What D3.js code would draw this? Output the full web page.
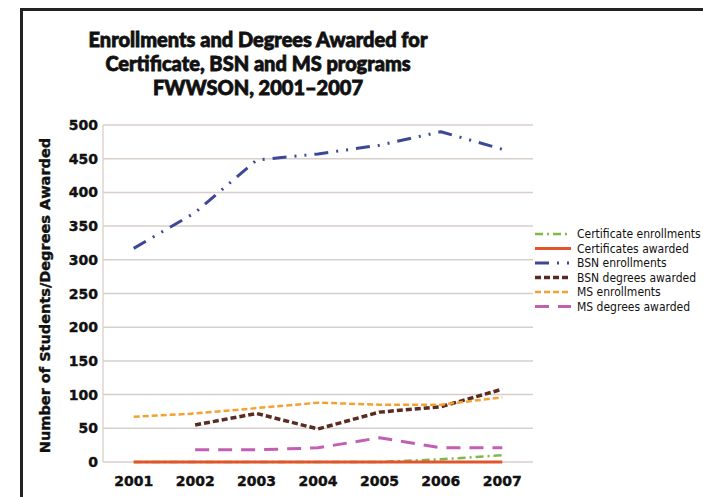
<!DOCTYPE html>
<html>
<head>
<meta charset="utf-8">
<script src="https://cdn.jsdelivr.net/npm/d3@7"></script>
<style>
  body { margin: 0; background: #fff; }
  svg { display: block; }
  .heavy { font-family: Lato, "DejaVu Sans", sans-serif; font-weight: 900; fill: #111; stroke: #111; stroke-width: 0.8; }
  .axis { font-family: "DejaVu Sans", sans-serif; font-weight: bold; fill: #111; stroke: #111; stroke-width: 0.4; }
  .leg { font-family: "Liberation Sans Narrow", "DejaVu Sans Condensed", sans-serif; font-size: 12px; fill: #111; }
</style>
</head>
<body>
<svg width="703" height="497"></svg>
<script>
var years = ["2001", "2002", "2003", "2004", "2005", "2006", "2007"];
var certEnroll = [0, 0, 0, 0, 0, 4, 10];
var certAwarded = [0, 0, 0, 0, 0, 0, 0];
var bsnEnroll = [317, 370, 448, 457, 470, 490, 464];
var bsnDegrees = [null, 55, 72, 49, 74, 82, 108];
var msEnroll = [67, 72, 80, 88, 85, 85, 96];
var msDegrees = [null, 18, 18, 21, 36, 21, 21];
var yTicks = [0, 50, 100, 150, 200, 250, 300, 350, 400, 450, 500];
var titleLines = ["Enrollments and Degrees Awarded for", "Certificate, BSN and MS programs", "FWWSON, 2001\u20132007"];

var series = [
  {name: "Certificate enrollments", values: certEnroll, color: "#7dba4a", width: 2.5, dash: "8,4,2,4"},
  {name: "Certificates awarded", values: certAwarded, color: "#e0552b", width: 3, dash: null},
  {name: "BSN enrollments", values: bsnEnroll, color: "#3c4896", width: 3, dash: "14,8,2,8,2,8"},
  {name: "BSN degrees awarded", values: bsnDegrees, color: "#5b2a20", width: 3.5, dash: "6,3"},
  {name: "MS enrollments", values: msEnroll, color: "#f5a131", width: 2.5, dash: "6,3"},
  {name: "MS degrees awarded", values: msDegrees, color: "#c25fb2", width: 3, dash: "14,9"}
];

var svg = d3.select("svg");

// frame
svg.append("path")
  .attr("d", "M21.5,497 V9.5 H703")
  .attr("fill", "none")
  .attr("stroke", "#222")
  .attr("stroke-width", 3);

var plotLeft = 103, plotRight = 533, plotTop = 125, plotBottom = 462;

var x = d3.scalePoint().domain(years).range([plotLeft, plotRight]).padding(0.5);
var y = d3.scaleLinear().domain([0, 500]).range([plotBottom, plotTop]);

// gridlines
svg.append("g").selectAll("line")
  .data(yTicks)
  .enter().append("line")
  .attr("x1", plotLeft).attr("x2", plotRight)
  .attr("y1", function(d) { return y(d); })
  .attr("y2", function(d) { return y(d); })
  .attr("stroke", "#d6cfcb")
  .attr("stroke-width", 1.5);

svg.append("line")
  .attr("x1", plotLeft).attr("x2", plotLeft)
  .attr("y1", plotTop).attr("y2", plotBottom)
  .attr("stroke", "#ddd6d2")
  .attr("stroke-width", 1.5);

// y labels
svg.append("g").selectAll("text")
  .data(yTicks)
  .enter().append("text")
  .attr("class", "axis")
  .attr("x", 98)
  .attr("y", function(d) { return y(d); })
  .attr("dy", "0.36em")
  .attr("text-anchor", "end")
  .attr("font-size", 14)
  .text(function(d) { return d; });

// x labels
svg.append("g").selectAll("text")
  .data(years)
  .enter().append("text")
  .attr("class", "axis")
  .attr("x", function(d) { return x(d); })
  .attr("y", 486)
  .attr("text-anchor", "middle")
  .attr("font-size", 14)
  .text(function(d) { return d; });

// y title
svg.append("text")
  .attr("class", "axis")
  .attr("transform", "translate(50," + ((plotTop + plotBottom) / 2 + 2) + ") rotate(-90)")
  .attr("text-anchor", "middle")
  .attr("font-size", 14.5)
  .text("Number of Students/Degrees Awarded");

// title
svg.append("g").selectAll("text")
  .data(titleLines)
  .enter().append("text")
  .attr("class", "heavy")
  .attr("x", 258)
  .attr("y", function(d, i) { return 47 + i * 24; })
  .attr("text-anchor", "middle")
  .attr("font-size", 20)
  .text(function(d) { return d; });

// lines
var line = d3.line()
  .defined(function(d) { return d != null; })
  .x(function(d, i) { return x(years[i]); })
  .y(function(d) { return y(d); });

svg.append("g").selectAll("path")
  .data(series)
  .enter().append("path")
  .attr("d", function(s) { return line(s.values); })
  .attr("fill", "none")
  .attr("stroke", function(s) { return s.color; })
  .attr("stroke-width", function(s) { return s.width; })
  .attr("stroke-dasharray", function(s) { return s.dash; })
  .attr("stroke-linejoin", "round");

// legend
var legend = svg.append("g").selectAll("g")
  .data(series)
  .enter().append("g")
  .attr("transform", function(d, i) { return "translate(535," + (234 + i * 14.5) + ")"; });

legend.append("line")
  .attr("x1", 0).attr("x2", 36)
  .attr("stroke", function(s) { return s.color; })
  .attr("stroke-width", function(s) { return s.width; })
  .attr("stroke-dasharray", function(s) { return s.dash; });

legend.append("text")
  .attr("class", "leg")
  .attr("x", 42)
  .attr("dy", "0.35em")
  .text(function(s) { return s.name; });
</script>
</body>
</html>
